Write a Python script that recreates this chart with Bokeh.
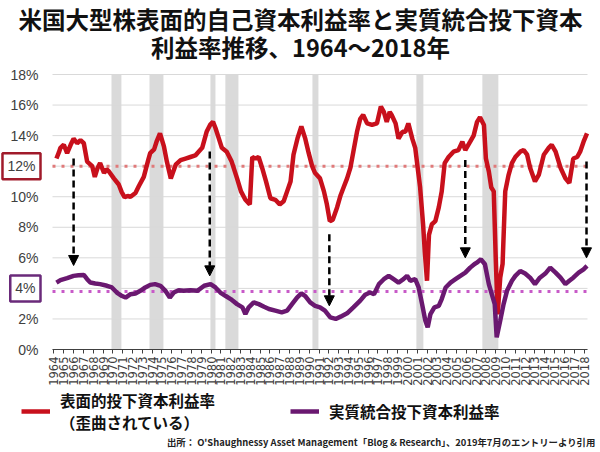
import numpy as np
from bokeh.plotting import figure
from bokeh.models import (Range1d, FixedTicker, PrintfTickFormatter, Arrow,
                          NormalHead, Label, Legend, LegendItem, ColumnDataSource)
from bokeh.embed import file_html
from bokeh.resources import INLINE

# ---------------- data ----------------
year_ticks = list(range(1964, 2019))
y_ticks = [0, 2, 4, 6, 8, 10, 12, 14, 16, 18]

roic_years = [1964.25, 1964.5, 1964.66, 1965.0, 1965.34, 1965.7, 1966.0, 1966.36, 1966.7, 1967.04,
              1967.38, 1967.9, 1968.16, 1968.45, 1968.7, 1969.1, 1969.35, 1969.6, 1970.1, 1970.6,
              1970.9, 1971.2, 1971.5, 1971.8, 1972.3, 1972.65, 1973.15, 1973.6, 1973.8, 1974.2,
              1974.45, 1974.8, 1975.2, 1975.5, 1975.9, 1976.4, 1976.9, 1977.4, 1977.9, 1978.4,
              1978.6, 1979.1, 1979.55, 1979.9, 1980.2, 1980.45, 1980.8, 1981.1, 1981.6, 1982.1,
              1982.65, 1983.05, 1983.5, 1983.95, 1984.2, 1984.5, 1984.85, 1985.2, 1985.6, 1986.05,
              1986.55, 1987.0, 1987.4, 1987.75, 1988.1, 1988.4, 1988.8, 1989.2, 1989.6, 1989.95,
              1990.3, 1990.6, 1991.1, 1991.5, 1991.8, 1992.1, 1992.4, 1992.84, 1993.2, 1993.5,
              1993.86, 1994.2, 1994.5, 1994.87, 1995.2, 1995.5, 1995.9, 1996.4, 1996.9, 1997.3,
              1997.6, 1997.9, 1998.2, 1998.4, 1998.8, 1999.1, 1999.5, 1999.8, 2000.1, 2000.5,
              2000.8, 2001.05, 2001.3, 2001.6, 2001.77, 2002.0, 2002.2, 2002.5, 2002.85, 2003.2,
              2003.5, 2003.8, 2004.2, 2004.7, 2005.2, 2005.6, 2005.9, 2006.4, 2006.75, 2007.1,
              2007.4, 2007.8, 2008.0, 2008.3, 2008.55, 2008.8, 2009.0, 2009.2, 2009.46, 2009.7,
              2009.97, 2010.3, 2010.65, 2011.0, 2011.5, 2011.85, 2012.2, 2012.5, 2013.0, 2013.4,
              2013.9, 2014.4, 2014.7, 2015.1, 2015.6, 2016.1, 2016.5, 2016.9, 2017.3, 2017.6,
              2017.95, 2018.3]
roic_values = [12.5, 12.9, 13.2, 13.4, 12.85, 13.4, 13.8, 13.5, 13.7, 13.5,
               12.3, 12.0, 11.3, 11.9, 12.2, 11.55, 11.8, 11.65, 11.2, 10.8,
               10.3, 9.96, 10.05, 10.0, 10.25, 10.7, 11.3, 12.4, 12.85, 13.1,
               13.6, 14.15, 13.3, 12.3, 11.2, 12.1, 12.4, 12.5, 12.6, 12.7,
               12.85, 13.2, 14.25, 14.7, 14.9, 14.5, 13.8, 13.2, 12.95, 12.3,
               11.2, 10.35, 9.8, 9.5, 12.6, 12.5, 12.6, 11.9, 11.0, 9.9,
               9.8, 9.5, 9.7, 10.35, 11.0, 12.75, 13.8, 14.6, 13.8, 12.85,
               12.0, 11.55, 11.2, 10.35, 9.5, 8.4, 8.5, 9.3, 10.1, 10.6,
               11.2, 11.9, 12.95, 14.25, 15.1, 15.35, 14.8, 14.7, 14.8, 15.9,
               15.55, 14.9, 15.55, 15.35, 14.8, 13.8, 14.25, 14.25, 14.8, 13.8,
               13.2, 11.9, 10.6, 8.2, 6.45, 4.5, 7.5, 8.2, 8.4, 9.3,
               10.35, 12.2, 12.6, 12.95, 13.05, 13.6, 13.05, 13.6, 14.0, 14.9,
               15.2, 14.7, 12.5, 11.65, 10.6, 10.35, 6.0, 2.3, 4.7, 5.6,
               10.35, 11.4, 12.2, 12.6, 12.95, 13.05, 12.75, 11.9, 11.0, 11.45,
               12.75, 13.2, 13.4, 12.95, 11.9, 11.2, 10.9, 12.5, 12.6, 12.95,
               13.6, 14.15]

real_years = [1964.25, 1964.66, 1965.34, 1966.0, 1966.5, 1967.04, 1967.38, 1967.7, 1968.2, 1968.7,
              1969.4, 1969.9, 1970.4, 1970.94, 1971.3, 1971.8, 1972.3, 1972.8, 1973.3, 1973.8,
              1974.3, 1974.85, 1975.35, 1975.8, 1976.2, 1976.7, 1977.2, 1977.9, 1978.6, 1979.3,
              1979.95, 1980.45, 1980.95, 1981.5, 1982.0, 1982.65, 1983.2, 1983.5, 1983.84, 1984.35,
              1984.86, 1985.4, 1985.9, 1986.55, 1987.2, 1987.75, 1988.25, 1988.76, 1989.2, 1989.6,
              1990.1, 1990.6, 1991.1, 1991.6, 1992.15, 1992.7, 1993.2, 1993.86, 1994.5, 1995.2,
              1995.7, 1996.2, 1996.6, 1997.1, 1997.6, 1998.1, 1998.6, 1999.1, 1999.6, 1999.97,
              2000.3, 2000.8, 2001.15, 2001.5, 2001.83, 2002.07, 2002.35, 2002.75, 2003.2, 2003.5,
              2003.9, 2004.4, 2004.9, 2005.4, 2005.9, 2006.4, 2006.85, 2007.1, 2007.5, 2007.9,
              2008.3, 2008.6, 2008.9, 2009.1, 2009.46, 2009.8, 2010.15, 2010.65, 2011.0, 2011.5,
              2012.0, 2012.5, 2013.0, 2013.5, 2014.05, 2014.55, 2015.1, 2015.6, 2016.1, 2016.5,
              2016.9, 2017.45, 2017.95, 2018.3]
real_values = [4.38, 4.54, 4.67, 4.82, 4.86, 4.88, 4.6, 4.38, 4.32, 4.28,
               4.17, 4.06, 3.73, 3.5, 3.4, 3.62, 3.67, 3.84, 4.06, 4.23,
               4.28, 4.17, 3.84, 3.4, 3.73, 3.88, 3.84, 3.88, 3.84, 4.17,
               4.28, 4.06, 3.73, 3.5, 3.3, 2.97, 2.76, 2.32, 2.76, 3.08,
               2.97, 2.8, 2.65, 2.54, 2.43, 2.54, 2.97, 3.4, 3.67, 3.5,
               3.08, 2.86, 2.76, 2.54, 2.1, 2.0, 2.15, 2.37, 2.76, 3.2,
               3.58, 3.73, 3.62, 4.28, 4.6, 4.82, 4.6, 4.38, 4.6, 4.82,
               4.5, 4.6, 4.06, 2.97, 1.89, 1.45, 2.32, 2.76, 2.86, 3.3,
               4.06, 4.38, 4.6, 4.82, 5.03, 5.36, 5.6, 5.69, 5.9, 5.58,
               4.28, 3.62, 2.97, 0.8, 1.89, 2.97, 3.84, 4.5, 4.82, 5.14,
               4.97, 4.7, 4.28, 4.7, 4.97, 5.36, 5.03, 4.7, 4.28, 4.5,
               4.7, 5.03, 5.25, 5.47]

recession_start = [1969.86, 1973.73, 1979.94, 1981.46, 1990.33, 2000.92, 2007.64]
recession_end = [1970.87, 1975.15, 1980.45, 1982.79, 1990.94, 2001.63, 2009.27]

roic_average = 12.0
real_average = 3.8

arrow_years = [1966.0, 1979.87, 1992.05, 2005.9, 2018.25]
arrow_from = [12.5, 12.96, 7.55, 12.4, 12.3]
arrow_to = [5.5, 4.82, 2.86, 6.0, 6.0]

title_line1 = "米国大型株表面的自己資本利益率と実質統合投下資本"
title_line2 = "利益率推移、1964～2018年"
label_roic = "表面的投下資本利益率\n（歪曲されている）"
label_real = "実質統合投下資本利益率"
source_text = "出所： O'Shaughnessy Asset Management「Blog & Research」、2019年7月のエントリーより引用"

RED = "#c8101c"
PURPLE = "#6a1870"
JP = "Noto Sans CJK JP"

# ---------------- layout (pixels) ----------------
W, H = 600, 452
PX_LEFT, PX_RIGHT, PX_TOP, PX_BOTTOM = 52, 587, 74, 349
X_MIN, X_MAX = 1963.85, 2018.35
Y_MIN, Y_MAX = 0, 18
sx = (PX_RIGHT - PX_LEFT) / (X_MAX - X_MIN)
sy = (PX_BOTTOM - PX_TOP) / (Y_MAX - Y_MIN)
x_range = Range1d(X_MIN - PX_LEFT / sx, X_MAX + (W - PX_RIGHT) / sx)
y_range = Range1d(Y_MIN - (H - PX_BOTTOM) / sy, Y_MAX + PX_TOP / sy)

p = figure(width=W, height=H, output_backend="svg", toolbar_location=None,
           x_range=x_range, y_range=y_range,
           min_border_left=0, min_border_right=0, min_border_top=0, min_border_bottom=0)
p.outline_line_color = None
p.background_fill_color = "white"
p.border_fill_color = "white"
p.xgrid.grid_line_color = None
p.ygrid.grid_line_color = None

# recession bands
rec = ColumnDataSource(dict(left=recession_start, right=recession_end))
p.quad(left="left", right="right", bottom=Y_MIN, top=Y_MAX, source=rec,
       fill_color="#dadada", line_color=None)

# horizontal grid lines at the y ticks
p.segment(x0=X_MIN, x1=X_MAX, y0=y_ticks, y1=y_ticks, line_color="#d9d9d9", line_width=1)

# averages (dotted)
p.segment(x0=X_MIN, x1=X_MAX, y0=[roic_average], y1=[roic_average],
          line_color="#e07a7a", line_width=3, line_dash="3 6")
p.segment(x0=X_MIN, x1=X_MAX, y0=[real_average], y1=[real_average],
          line_color="#c85ac8", line_width=3, line_dash="3 6")

red_line = p.line(roic_years, roic_values, line_color=RED, line_width=4.5)
purple_line = p.line(real_years, real_values, line_color=PURPLE, line_width=4.5)

for xa, y0, y1 in zip(arrow_years, arrow_from, arrow_to):
    p.add_layout(Arrow(x_start=xa, y_start=y0, x_end=xa, y_end=y1,
                       line_color="black", line_width=2.5, line_dash="7 4",
                       end=NormalHead(size=10, fill_color="black", line_color="black")))

# y axis (fixed at the left edge of the plotting area)
p.yaxis.fixed_location = X_MIN
p.yaxis.bounds = (Y_MIN, Y_MAX)
p.yaxis.ticker = FixedTicker(ticks=y_ticks)
p.yaxis.formatter = PrintfTickFormatter(format="%d%%")
p.yaxis.major_label_overrides = {12: " ", 4: " "}
p.yaxis.axis_line_color = None
p.yaxis.major_tick_line_color = None
p.yaxis.minor_tick_line_color = None
p.yaxis.major_tick_out = 0
p.yaxis.major_tick_in = 0
p.yaxis.major_label_standoff = 14
p.yaxis.major_label_text_font = "Liberation Sans"
p.yaxis.major_label_text_font_size = "14px"
p.yaxis.major_label_text_color = "#404040"

# x axis (fixed at 0 %)
p.xaxis.fixed_location = Y_MIN
p.xaxis.bounds = (X_MIN, X_MAX)
p.xaxis.ticker = FixedTicker(ticks=year_ticks)
p.xaxis.major_label_orientation = np.pi / 2
p.xaxis.axis_line_color = "#404040"
p.xaxis.major_tick_line_color = "#404040"
p.xaxis.minor_tick_line_color = None
p.xaxis.major_tick_out = 4
p.xaxis.major_tick_in = 0
p.xaxis.major_label_standoff = 3
p.xaxis.major_label_text_font = "DejaVu Sans"
p.xaxis.major_label_text_font_size = "11.5px"
p.xaxis.major_label_text_color = "#404040"

# boxed tick labels
for val, col in ((12, "#a01a2a"), (4, "#6a2a7a")):
    p.add_layout(Label(x=40, y=val, x_units="screen", y_units="data", text=f"{val}%",
                       text_align="right", text_baseline="middle", text_font="Liberation Sans",
                       text_font_size="14px", text_color="#404040", padding=5,
                       border_line_color=col, border_line_width=2.5))

# title
p.add_layout(Label(x=W / 2, y=H - 18, x_units="screen", y_units="screen", text=title_line1,
                   text_align="center", text_baseline="middle", text_font=JP,
                   text_font_size="23.5px", text_font_style="bold", text_color="#111111"))
p.add_layout(Label(x=W / 2, y=H - 46, x_units="screen", y_units="screen", text=title_line2,
                   text_align="center", text_baseline="middle", text_font=JP,
                   text_font_size="23.5px", text_font_style="bold", text_color="#111111"))

legend = Legend(items=[LegendItem(label=label_roic, renderers=[red_line]),
                       LegendItem(label=label_real, renderers=[purple_line])],
                orientation="horizontal", location=(21, 19),
                label_text_font=JP, label_text_font_size="15.5px", label_text_font_style="bold",
                label_text_color="#111111", glyph_width=29, glyph_height=34,
                label_standoff=10, spacing=75, padding=0, margin=0,
                border_line_color=None, background_fill_alpha=0)
p.add_layout(legend, "center")

p.add_layout(Label(x=595, y=H - 441, x_units="screen", y_units="screen", text=source_text,
                   text_align="right", text_baseline="middle", text_font=JP,
                   text_font_size="9.4px", text_font_style="bold", text_color="#222222"))

open("out.html", "w").write(file_html(p, INLINE))
